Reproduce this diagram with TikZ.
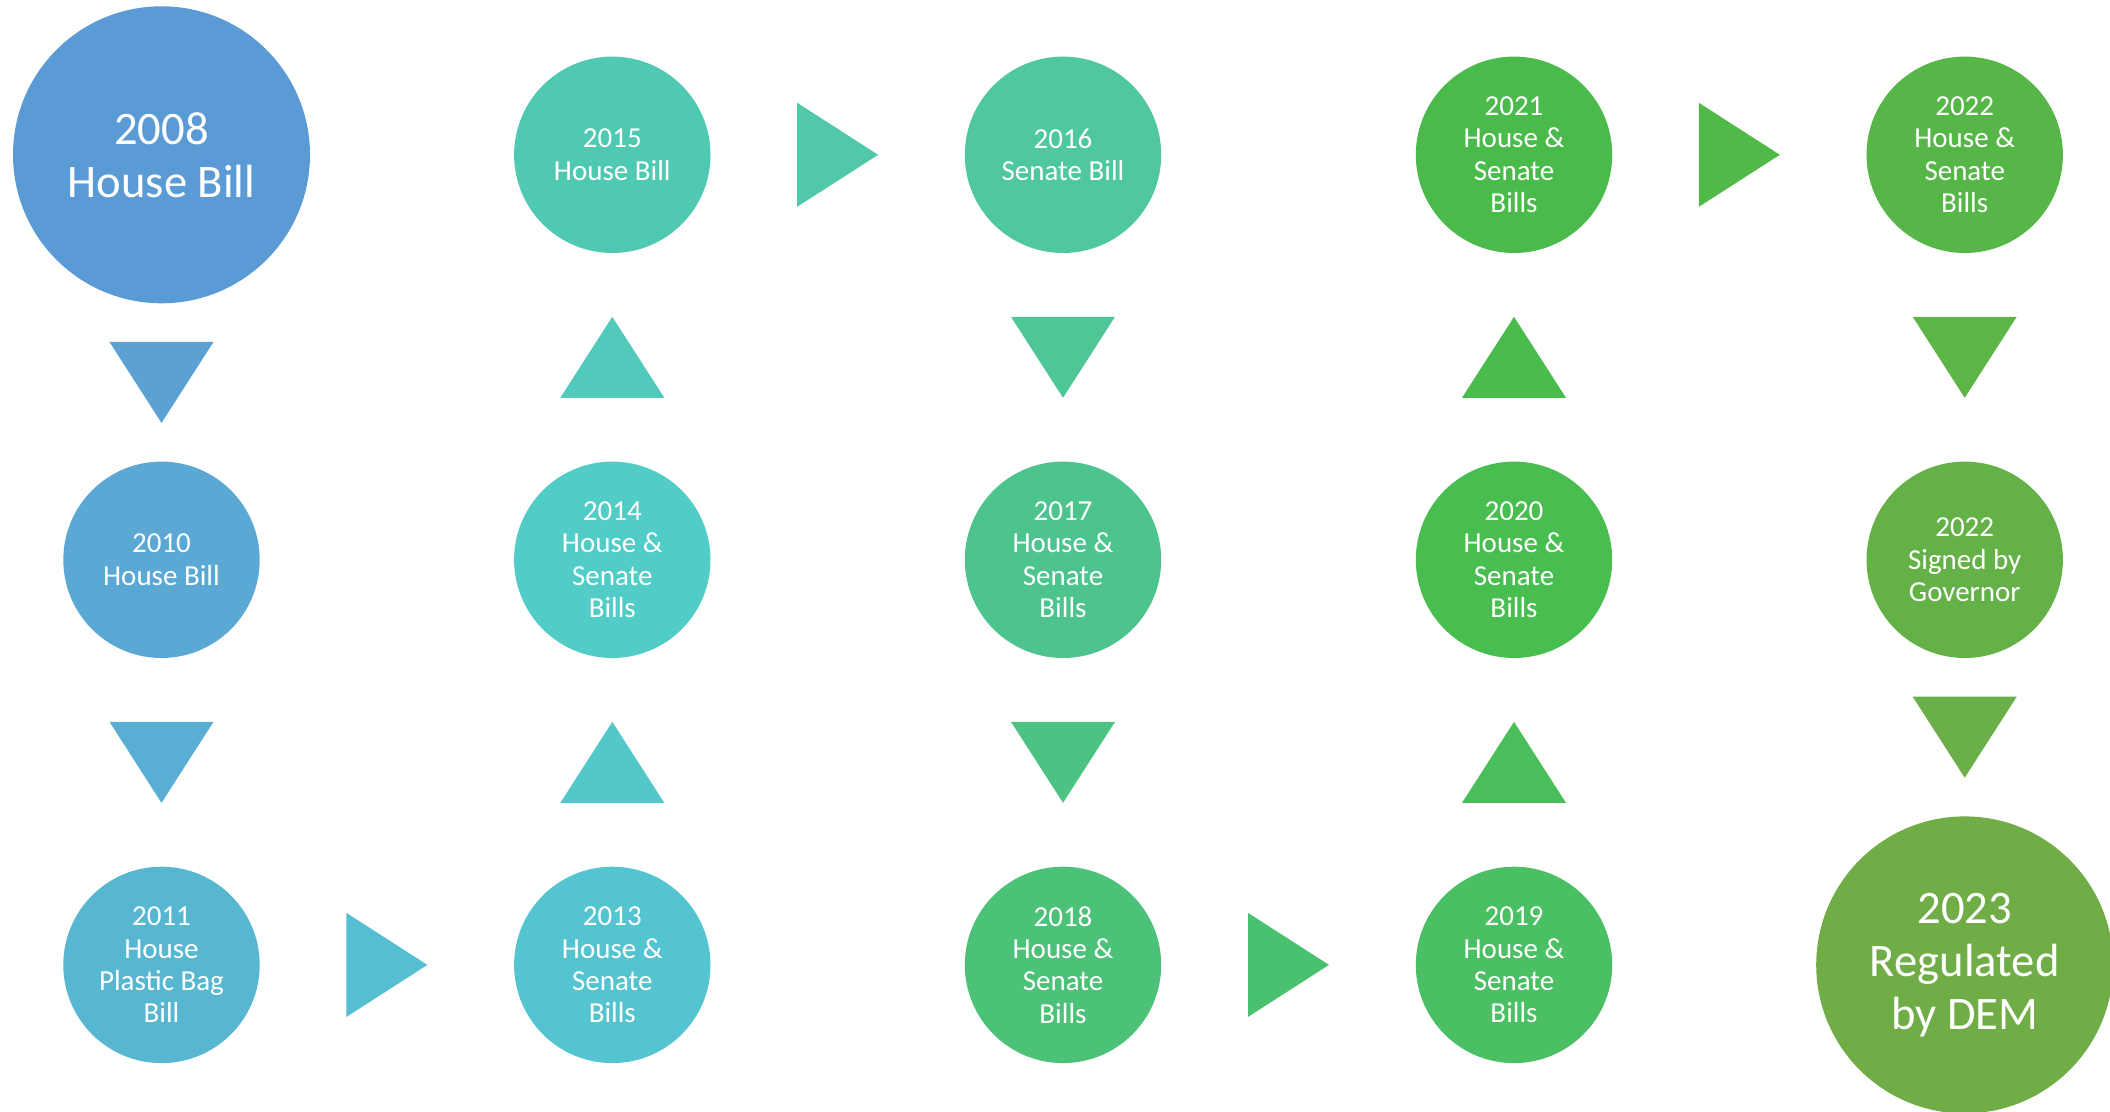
\documentclass[tikz,border=0pt]{standalone}
\usepackage{fontspec}
\setmainfont{Carlito}
\usetikzlibrary{calc}

\definecolor{c2008}{HTML}{5B9BD5}
\definecolor{c2010}{HTML}{5BA8D4}
\definecolor{c2011}{HTML}{57B7D1}
\definecolor{c2013}{HTML}{54C5D0}
\definecolor{c2014}{HTML}{52CCC6}
\definecolor{c2015}{HTML}{50C9B2}
\definecolor{c2016}{HTML}{4FC7A0}
\definecolor{c2017}{HTML}{4DC48D}
\definecolor{c2018}{HTML}{4BC278}
\definecolor{c2019}{HTML}{4ABF64}
\definecolor{c2020}{HTML}{48BD50}
\definecolor{c2021}{HTML}{4ABB4A}
\definecolor{c2022}{HTML}{56B647}
\definecolor{cgov}{HTML}{63B147}
\definecolor{cdem}{HTML}{70AD47}

\tikzset{
  bill/.style={circle, fill=#1, text=white, align=center, inner sep=0pt,
    minimum size=98.2pt, font=\fontsize{14.5}{16.2}\selectfont},
  bigbill/.style={bill=#1, minimum size=148.5pt, font=\fontsize{23.3}{26.5}\selectfont},
  tri/.pic={\fill[#1] (-20.25pt,-26pt) -- (-20.25pt,26pt) -- (20.25pt,0pt) -- cycle;}
}

\begin{document}
\begin{tikzpicture}[x=0.5pt, y=-0.5pt]

\useasboundingbox (0,0) rectangle (2110,1112);

% top row
\node[bigbill=c2008] (n2008) at (161.5,154.8) {2008\\House Bill};
\node[bill=c2015] (n2015) at (612.3,154.8) {2015\\House Bill};
\node[bill=c2016] (n2016) at (1063,154.8) {2016\\Senate Bill};
\node[bill=c2021] (n2021) at (1514,154.8) {2021\\House \&\\Senate\\Bills};
\node[bill=c2022] (n2022) at (1964.7,154.8) {2022\\House \&\\Senate\\Bills};

% middle row
\node[bill=c2010] (n2010) at (161.5,559.8) {2010\\House Bill};
\node[bill=c2014] (n2014) at (612.3,559.8) {2014\\House \&\\Senate\\Bills};
\node[bill=c2017] (n2017) at (1063,559.8) {2017\\House \&\\Senate\\Bills};
\node[bill=c2020] (n2020) at (1514,559.8) {2020\\House \&\\Senate\\Bills};
\node[bill=cgov] (gov) at (1964.7,559.8) {2022\\Signed by\\Governor};

% bottom row
\node[bill=c2011] (n2011) at (161.5,964.9) {2011\\House\\Plastic Bag\\Bill};
\node[bill=c2013] (n2013) at (612.3,964.9) {2013\\House \&\\Senate\\Bills};
\node[bill=c2018] (n2018) at (1063,964.9) {2018\\House \&\\Senate\\Bills};
\node[bill=c2019] (n2019) at (1514,964.9) {2019\\House \&\\Senate\\Bills};
\node[bigbill=cdem] (dem) at (1964.7,964.9) {2023\\Regulated\\by DEM};

% triangles between the circles
\pic[rotate=-90] at ($(n2008.south)!.5!(n2010.north)$) {tri=c2008!50!c2010};
\pic[rotate=-90] at ($(n2010.south)!.5!(n2011.north)$) {tri=c2010!50!c2011};
\pic at ($(n2011.east)!.5!(n2013.west)$) {tri=c2011!50!c2013};
\pic[rotate=90] at ($(n2013.north)!.5!(n2014.south)$) {tri=c2013!50!c2014};
\pic[rotate=90] at ($(n2014.north)!.5!(n2015.south)$) {tri=c2014!50!c2015};
\pic at ($(n2015.east)!.5!(n2016.west)$) {tri=c2015!50!c2016};
\pic[rotate=-90] at ($(n2016.south)!.5!(n2017.north)$) {tri=c2016!50!c2017};
\pic[rotate=-90] at ($(n2017.south)!.5!(n2018.north)$) {tri=c2017!50!c2018};
\pic at ($(n2018.east)!.5!(n2019.west)$) {tri=c2018!50!c2019};
\pic[rotate=90] at ($(n2019.north)!.5!(n2020.south)$) {tri=c2019!50!c2020};
\pic[rotate=90] at ($(n2020.north)!.5!(n2021.south)$) {tri=c2020!50!c2021};
\pic at ($(n2021.east)!.5!(n2022.west)$) {tri=c2021!50!c2022};
\pic[rotate=-90] at ($(n2022.south)!.5!(gov.north)$) {tri=c2022!50!cgov};
\pic[rotate=-90] at ($(gov.south)!.5!(dem.north)$) {tri=cgov!50!cdem};

\end{tikzpicture}
\end{document}
